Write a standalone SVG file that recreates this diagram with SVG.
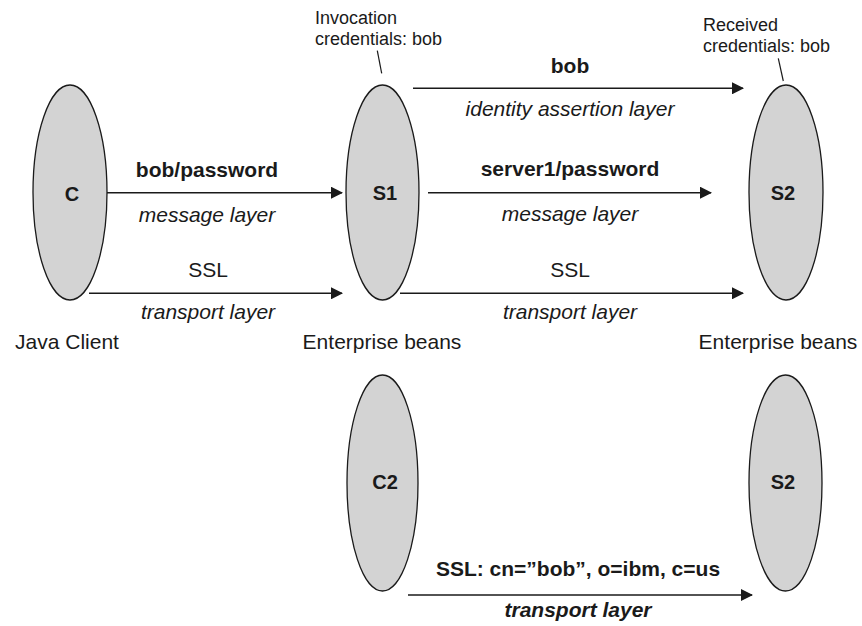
<svg xmlns="http://www.w3.org/2000/svg" width="862" height="626" viewBox="0 0 862 626">
<style>
.node ellipse{fill:#d3d3d3;stroke:#1a1a1a;stroke-width:1.3}
.lbl{font-family:"Liberation Sans",Arial,sans-serif;font-size:20px;font-weight:bold;fill:#1a1a1a;text-anchor:middle}
.t{font-family:"Liberation Sans",Arial,sans-serif;font-size:21px;fill:#1a1a1a;text-anchor:middle}
.b{font-weight:bold}
.i{font-style:italic}
.note{font-family:"Liberation Sans",Arial,sans-serif;font-size:18px;fill:#1a1a1a}
.conn line{stroke:#1a1a1a;stroke-width:1.6;fill:none}
.lead{stroke:#1a1a1a;stroke-width:1.2}
</style>
<defs>
<marker id="arr" markerWidth="12" markerHeight="12" refX="11" refY="6" orient="auto" markerUnits="userSpaceOnUse">
<path d="M0,0 L12,6 L0,12 Z" fill="#1a1a1a"/>
</marker>
</defs>
<rect width="862" height="626" fill="#ffffff"/>

<g id="node-C" class="node">
<ellipse cx="70" cy="192.5" rx="37" ry="107.5"/>
<text class="lbl" x="72" y="201">C</text>
</g>
<g id="node-S1" class="node">
<ellipse cx="382.5" cy="192.5" rx="36.5" ry="107.5"/>
<text class="lbl" x="385" y="200">S1</text>
</g>
<g id="node-S2" class="node">
<ellipse cx="786" cy="192.5" rx="37" ry="107.5"/>
<text class="lbl" x="783" y="200">S2</text>
</g>
<g id="node-C2" class="node">
<ellipse cx="382.5" cy="483" rx="35.5" ry="108"/>
<text class="lbl" x="385" y="489">C2</text>
</g>
<g id="node-S2b" class="node">
<ellipse cx="785.5" cy="483" rx="36.5" ry="108"/>
<text class="lbl" x="783" y="489">S2</text>
</g>

<g id="connectors" class="conn">
<line x1="107" y1="192.7" x2="342" y2="192.7" marker-end="url(#arr)"/>
<line x1="89" y1="293.3" x2="342" y2="293.3" marker-end="url(#arr)"/>
<line x1="413" y1="88.3" x2="743" y2="88.3" marker-end="url(#arr)"/>
<line x1="428" y1="192.7" x2="711" y2="192.7" marker-end="url(#arr)"/>
<line x1="400" y1="293.3" x2="743" y2="293.3" marker-end="url(#arr)"/>
<line x1="408" y1="595" x2="752" y2="595" marker-end="url(#arr)"/>
</g>

<g id="labels">
<text class="t b" x="207" y="177">bob/password</text>
<text class="t i" x="207" y="221.5">message layer</text>
<text class="t" x="208" y="277">SSL</text>
<text class="t i" x="208" y="319">transport layer</text>
<text class="t b" x="570" y="73">bob</text>
<text class="t i" x="570" y="116">identity assertion layer</text>
<text class="t b" x="570" y="175.5">server1/password</text>
<text class="t i" x="570" y="220.5">message layer</text>
<text class="t" x="570" y="277">SSL</text>
<text class="t i" x="570" y="319">transport layer</text>
<text class="t" x="67" y="349">Java Client</text>
<text class="t" x="382" y="349">Enterprise beans</text>
<text class="t" x="778" y="349">Enterprise beans</text>
<text class="t b" x="578" y="576">SSL: cn=”bob”, o=ibm, c=us</text>
<text class="t b i" x="578" y="617">transport layer</text>
</g>

<g id="annotations">
<text class="note" x="315" y="24">Invocation</text>
<text class="note" x="315" y="45">credentials: bob</text>
<line class="lead" x1="377.3" y1="50.7" x2="381.7" y2="73.3"/>
<text class="note" x="703" y="30.5">Received</text>
<text class="note" x="703" y="51.5">credentials: bob</text>
<line class="lead" x1="778.3" y1="58.3" x2="783.3" y2="81"/>
</g>
</svg>
